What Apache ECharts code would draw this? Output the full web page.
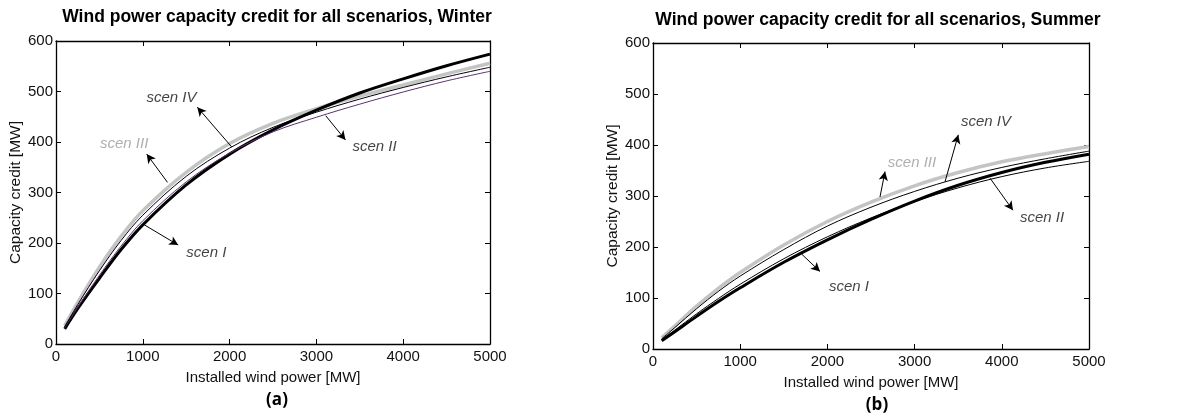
<!DOCTYPE html>
<html>
<head>
<meta charset="utf-8">
<title>Wind power capacity credit</title>
<script src="https://cdn.jsdelivr.net/npm/echarts@6/dist/echarts.min.js"></script>
<style>
  html, body { margin: 0; padding: 0; background: #fff; }
  #chart { width: 1183px; height: 416px; }
</style>
</head>
<body>
<div id="chart"></div>
<script>
// Installed wind power [MW]
const installed = [100, 250, 500, 750, 1000, 1500, 2000, 2500, 3000, 3500, 4000, 4500, 5000];

// Capacity credit [MW], winter
const winterScenI   = [30, 70, 130, 187, 236, 315, 376, 424, 463, 497, 525, 551, 574];
const winterScenII  = [32, 73, 136, 194, 244, 321, 378, 420, 449, 475, 499, 521, 540];
const winterScenIII = [36, 82, 152, 213, 264, 340, 397, 437, 466, 491, 513, 535, 556];
const winterScenIV  = [34, 78, 145, 205, 255, 332, 388, 429, 459, 485, 508, 529, 548];

// Capacity credit [MW], summer
const summerScenI   = [16, 34, 64, 93, 120, 170, 214, 254, 290, 321, 346, 366, 382];
const summerScenII  = [18, 37, 69, 99, 127, 177, 220, 257, 289, 316, 338, 355, 368];
const summerScenIII = [22, 45, 84, 119, 150, 204, 250, 288, 320, 346, 367, 383, 397];
const summerScenIV  = [20, 42, 79, 113, 143, 195, 241, 278, 309, 335, 356, 373, 388];

// Tick values
const xTicks = [0, 1000, 2000, 3000, 4000, 5000];
const yTicks = [0, 100, 200, 300, 400, 500, 600];

// Scenario labels and their callout arrows, in data units [MW, MW]
const winterLabelNames = ['scen IV', 'scen III', 'scen II', 'scen I'];
const winterLabelPos   = [[1330, 487], [785, 396], [3670, 390], [1732, 180]];
const winterArrowFrom  = [[2025, 390], [1285, 320], [3108, 452], [1017, 236]];
const winterArrowTo    = [[1628, 469], [1045, 376], [3335, 404], [1408, 196]];

const summerLabelNames = ['scen IV', 'scen III', 'scen II', 'scen I'];
const summerLabelPos   = [[3819, 445], [2970, 365], [4461, 258], [2248, 122]];
const summerArrowFrom  = [[3349, 328], [2603, 298], [3865, 335], [1705, 186]];
const summerArrowTo    = [[3501, 420], [2661, 348], [4128, 272], [1915, 152]];

const FONT = 'Liberation Sans, Arial, Helvetica, sans-serif';
const xMin = xTicks[0], xMax = xTicks[xTicks.length - 1];
const yMin = yTicks[0], yMax = yTicks[yTicks.length - 1];
const xStep = xTicks[1] - xTicks[0], yStep = yTicks[1] - yTicks[0];

const pairs = (xs, ys) => xs.map((x, i) => [x, ys[i]]);
const plain = v => String(v);

function xAxes(grid) {
  const base = {
    type: 'value', gridIndex: grid, min: xMin, max: xMax, interval: xStep,
    splitLine: { show: false },
    axisLine: { show: true, onZero: false, lineStyle: { color: '#000', width: 1.3 } },
    axisTick: { show: true, inside: true, length: 5, lineStyle: { color: '#000', width: 1 } }
  };
  return [
    Object.assign({}, base, {
      position: 'bottom',
      name: 'Installed wind power [MW]', nameLocation: 'middle', nameGap: 26,
      nameTextStyle: { fontFamily: FONT, fontSize: 15, color: '#111' },
      axisLabel: { fontFamily: FONT, fontSize: 15, color: '#111', margin: 5, formatter: plain }
    }),
    Object.assign({}, base, { position: 'top', axisLabel: { show: false } })
  ];
}

function yAxes(grid) {
  const base = {
    type: 'value', gridIndex: grid, min: yMin, max: yMax, interval: yStep,
    splitLine: { show: false },
    axisLine: { show: true, onZero: false, lineStyle: { color: '#000', width: 1.3 } },
    axisTick: { show: true, inside: true, length: 5, lineStyle: { color: '#000', width: 1 } }
  };
  return [
    Object.assign({}, base, {
      position: 'left',
      name: 'Capacity credit [MW]', nameLocation: 'middle', nameGap: 31,
      nameTextStyle: { fontFamily: FONT, fontSize: 15.5, color: '#111' },
      axisLabel: { fontFamily: FONT, fontSize: 15, color: '#111', margin: 3, formatter: plain }
    }),
    Object.assign({}, base, { position: 'right', axisLabel: { show: false } })
  ];
}

function curve(name, xi, yi, xs, ys, color, width) {
  return {
    name, type: 'line', xAxisIndex: xi, yAxisIndex: yi,
    data: pairs(xs, ys), showSymbol: false, smooth: 0.35, silent: true,
    lineStyle: { color, width }, z: 2
  };
}

function callouts(xi, yi, names, pos, from, to) {
  return {
    type: 'scatter', xAxisIndex: xi, yAxisIndex: yi, symbolSize: 0, silent: true, z: 5,
    data: names.map((n, i) => ({
      name: n, value: pos[i],
      label: { color: n === 'scen III' ? '#9a9a9a' : '#111' }
    })),
    label: {
      show: true, position: 'inside', formatter: '{b}',
      fontFamily: FONT, fontStyle: 'italic', fontSize: 15
    },
    markLine: {
      silent: true, symbol: ['none', 'arrow'], symbolSize: [7, 9],
      label: { show: false },
      lineStyle: { color: '#000', width: 1, type: 'solid' },
      data: from.map((f, i) => [{ coord: f }, { coord: to[i] }])
    }
  };
}

const chart = echarts.init(document.getElementById('chart'), null, { renderer: 'canvas' });

chart.setOption({
  backgroundColor: '#fff',
  animation: false,
  title: [
    { text: 'Wind power capacity credit for all scenarios, Winter', left: 272, top: 3, textAlign: 'center',
      textStyle: { fontFamily: FONT, fontSize: 17.5, fontWeight: 'bold', color: '#000' } },
    { text: 'Wind power capacity credit for all scenarios, Summer', left: 873, top: 6, textAlign: 'center',
      textStyle: { fontFamily: FONT, fontSize: 17.5, fontWeight: 'bold', color: '#000' } },
    { text: '(a)', left: 272, top: 387, textAlign: 'center',
      textStyle: { fontFamily: 'Open Sans, Lato, sans-serif', fontSize: 17, fontWeight: 'bold', color: '#000' } },
    { text: '(b)', left: 872, top: 392, textAlign: 'center',
      textStyle: { fontFamily: 'Open Sans, Lato, sans-serif', fontSize: 17, fontWeight: 'bold', color: '#000' } }
  ],
  grid: [
    { left: 56, right: 693, top: 41, bottom: 72 },
    { left: 653, right: 94, top: 43, bottom: 67 }
  ],
  xAxis: xAxes(0).concat(xAxes(1)),
  yAxis: yAxes(0).concat(yAxes(1)),
  series: [
    curve('scen III', 0, 0, installed, winterScenIII, '#c4c4c4', 3.5),
    curve('scen I',   0, 0, installed, winterScenI,   '#000', 3),
    curve('scen II',  0, 0, installed, winterScenII,  '#5e2f72', 1),
    curve('scen IV',  0, 0, installed, winterScenIV,  '#000', 1),
    callouts(0, 0, winterLabelNames, winterLabelPos, winterArrowFrom, winterArrowTo),

    curve('scen III', 2, 2, installed, summerScenIII, '#c4c4c4', 3.5),
    curve('scen I',   2, 2, installed, summerScenI,   '#000', 3),
    curve('scen II',  2, 2, installed, summerScenII,  '#000', 1),
    curve('scen IV',  2, 2, installed, summerScenIV,  '#000', 1),
    callouts(2, 2, summerLabelNames, summerLabelPos, summerArrowFrom, summerArrowTo)
  ]
});
</script>
</body>
</html>
